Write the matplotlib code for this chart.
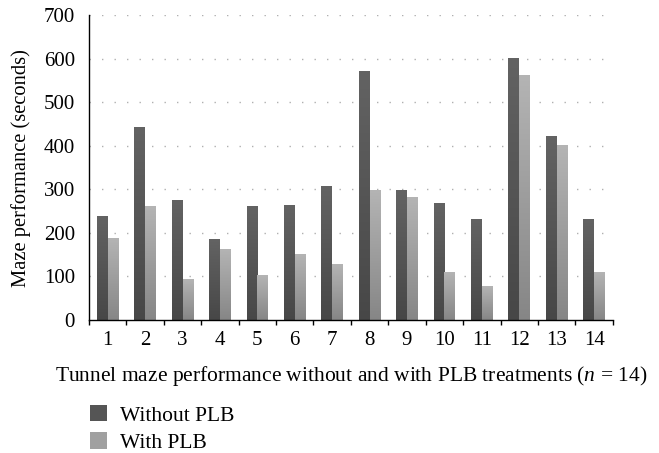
import matplotlib

matplotlib.use("Agg")
import matplotlib.pyplot as plt
import numpy as np
from matplotlib.colors import LinearSegmentedColormap
from matplotlib.patches import Patch

# Values
rats = [str(i) for i in range(1, 15)]
without_plb = [237, 442, 274, 184, 260, 262, 306, 571, 297, 267, 230, 600, 421, 230]
with_plb = [186, 260, 92, 161, 103, 150, 127, 297, 281, 110, 76, 561, 400, 110]
y_ticks = [0, 100, 200, 300, 400, 500, 600, 700]

DARK = ("#474747", "#636363")   # bottom, top
LIGHT = ("#868686", "#b4b4b4")

plt.rcParams["font.family"] = ["Liberation Serif", "DejaVu Serif"]
plt.rcParams["font.size"] = 15
plt.rcParams["mathtext.fontset"] = "custom"
plt.rcParams["mathtext.it"] = "Liberation Serif:italic"
plt.rcParams["mathtext.rm"] = "Liberation Serif"

fig = plt.figure(figsize=(6.59, 4.53), dpi=100)
ax = fig.add_axes([0.135, 0.2936, 0.795, 0.673])

x = np.arange(1, len(rats) + 1)
w = 0.29
bars_a = ax.bar(x - w / 2, without_plb, w, color="none", linewidth=0)
bars_b = ax.bar(x + w / 2, with_plb, w, color="none", linewidth=0)

# vertical gradient inside each bar
grad = np.linspace(0, 1, 256).reshape(-1, 1)
for bars, (c0, c1) in [(bars_a, DARK), (bars_b, LIGHT)]:
    cmap = LinearSegmentedColormap.from_list("g", [c0, c1])
    for p in bars:
        x0, y0 = p.get_x(), p.get_y()
        ax.imshow(grad, cmap=cmap, origin="lower", aspect="auto",
                  extent=(x0, x0 + p.get_width(), y0, y0 + p.get_height()),
                  zorder=2)

ax.set_xlim(0.5, len(rats) + 0.5)
ax.set_ylim(0, 700)
ax.set_yticks(y_ticks)
ax.set_xticks(x)
ax.set_xticklabels(rats)
ax.set_xticks(np.arange(0.5, len(rats) + 1), minor=True)
ax.set_yticks([0, 700], minor=True)
ax.tick_params(axis="both", which="major", length=0)
ax.tick_params(axis="x", which="major", pad=8)
ax.tick_params(axis="y", which="major", pad=10)
ax.tick_params(axis="both", which="minor", length=3.5, width=1, direction="out")

for v in y_ticks[1:]:
    ax.axhline(v, color="#b0b0b0", lw=1, ls=(0, (1, 8)), zorder=1)

for s in ["top", "right"]:
    ax.spines[s].set_visible(False)
for s in ["left", "bottom"]:
    ax.spines[s].set_linewidth(1)
    ax.spines[s].set_zorder(3)

ax.set_ylabel("Maze performance (seconds)", fontsize=14.8, labelpad=9)
ax.set_xlabel("Tunnel maze performance without and with PLB treatments ($n$ = 14)",
              fontsize=15.5, labelpad=10)

handles = [Patch(facecolor="#555555", label="Without PLB"),
           Patch(facecolor="#a0a0a0", label="With PLB")]
fig.legend(handles=handles, loc="upper left", bbox_to_anchor=(0.136, 0.106),
           frameon=False, fontsize=15.5, handlelength=0.8, handleheight=0.8,
           handletextpad=0.6, labelspacing=0.3, borderaxespad=0, borderpad=0)

fig.savefig("out.png", dpi=100)
